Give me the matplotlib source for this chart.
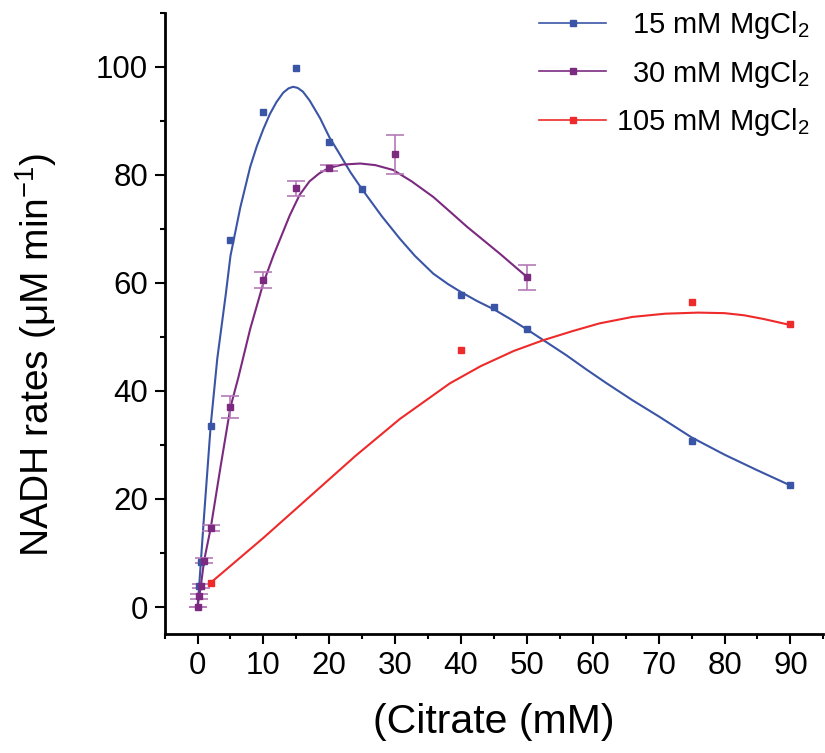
import numpy as np
import matplotlib
matplotlib.use("Agg")
from matplotlib import pyplot as plt
from matplotlib.ticker import MultipleLocator

plt.rcParams['font.family'] = ['Liberation Sans', 'DejaVu Sans']
plt.rcParams['mathtext.fontset'] = 'custom'
plt.rcParams['mathtext.rm'] = 'Liberation Sans'
plt.rcParams['mathtext.it'] = 'Liberation Sans'
plt.rcParams['mathtext.default'] = 'regular'

# measured rates, 15 mM MgCl2
x15 = [0.25, 0.5, 2, 5, 10, 15, 20, 25, 40, 45, 50, 75, 90]
y15 = [3.9, 8.4, 33.6, 67.9, 91.7, 99.8, 86.1, 77.4, 57.7, 55.6, 51.5, 30.7, 22.6]

# measured rates, 30 mM MgCl2 (with error)
x30 = [0, 0.25, 0.5, 1, 2, 5, 10, 15, 20, 30, 50]
y30 = [0.0, 2.0, 3.9, 8.6, 14.6, 37.0, 60.6, 77.5, 81.3, 83.8, 61.0]
e30 = [0.0, 0.5, 0.4, 0.5, 0.5, 2.0, 1.5, 1.4, 0.6, 3.6, 2.4]

# measured rates, 105 mM MgCl2
x105 = [2, 40, 75, 90]
y105 = [4.5, 47.5, 56.5, 52.3]

# fitted curves
fx15 = [0, 0.25, 0.5, 1, 2, 3, 4.3, 5, 6.5, 8, 9, 10, 11, 12, 13, 13.8, 14.5,
        15.2, 16, 17, 18.6, 20, 21.5, 23.2, 25, 28, 30.7, 33, 35.8, 38, 40,
        42.5, 45, 47.5, 50, 52.5, 56, 59, 62, 66, 70, 75, 80, 85, 90]
fy15 = [0, 3.9, 8.3, 17, 33.6, 46, 58, 65, 74, 81.5, 85.3, 88.5, 91.3, 93.5,
        95.2, 96.0, 96.3, 96.1, 95.4, 93.8, 90.5, 87, 84, 80.5, 77.3, 72.3,
        68.2, 65, 61.7, 59.8, 58.3, 56.6, 55.1, 53.3, 51.4, 49.4, 46.6, 44,
        41.5, 38.3, 35.3, 31.4, 28.2, 25.3, 22.5]

fx30 = [0, 0.25, 0.5, 1, 2, 3.5, 5, 6.2, 8, 10, 11.5, 13, 14, 15.5, 17, 18.5,
        20, 22, 24.7, 27, 29.7, 32.5, 35.8, 38.5, 40.9, 43.5, 45.9, 48, 50]
fy30 = [0, 2, 3.9, 8.6, 14.6, 26, 37, 42.5, 51.5, 60, 65, 69.5, 72.5, 76.3,
        78.8, 80.3, 81.3, 81.9, 82.1, 81.8, 80.9, 78.8, 75.9, 73, 70.4, 67.8,
        65.4, 63.2, 61.1]

fx105 = [2, 10, 17, 24, 30.7, 38.3, 43, 48, 52.5, 57, 61, 66, 71, 76, 80, 83, 86, 90]
fy105 = [4.5, 12.8, 20.4, 28, 34.8, 41.4, 44.6, 47.4, 49.4, 51.1, 52.5, 53.7,
         54.3, 54.5, 54.4, 54, 53.3, 52.2]

blue = '#3a55a6'
purple = '#7b2a80'
purple_err = '#b57ab8'
red = '#ee2a2a'

fig = plt.figure(figsize=(8.25, 7.53), dpi=100)
ax = fig.add_axes([0.1995, 0.158, 0.7985, 0.825])

ax.plot(fx15, fy15, color=blue, lw=1.5)
ax.plot(fx30, fy30, color=purple, lw=1.5)
ax.plot(fx105, fy105, color=red, lw=1.5)

ax.errorbar(x30, y30, yerr=e30, fmt='none', ecolor=purple_err, elinewidth=1.2,
            capsize=6.5, capthick=1.2)
ax.plot(x15, y15, 's', color=blue, ms=5, mec=blue)
ax.plot(x30, y30, 's', color=purple, ms=5, mec=purple)
ax.plot(x105, y105, 's', color=red, ms=5, mec=red)

# legend handles: line with marker in the middle
h1, = ax.plot([], [], '-s', color=blue, lw=1.2, ms=4.5)
h2, = ax.plot([], [], '-s', color=purple, lw=1.2, ms=4.5)
h3, = ax.plot([], [], '-s', color=red, lw=1.2, ms=4.5)
leg = ax.legend([h1, h2, h3],
                ['  15 mM MgCl$_2$', '  30 mM MgCl$_2$', '105 mM MgCl$_2$'],
                loc='upper right', bbox_to_anchor=(0.982, 0.988),
                bbox_transform=fig.transFigure, frameon=False, fontsize=21,
                borderpad=0, borderaxespad=0,
                handlelength=2.3, handletextpad=0.34, labelspacing=0.57)

ax.set_xlim(-5, 95)
ax.set_ylim(-5, 110)
ax.xaxis.set_minor_locator(MultipleLocator(5))
ax.yaxis.set_minor_locator(MultipleLocator(10))
ax.set_yticks(np.arange(0, 101, 20))
ax.set_xticks(np.arange(0, 91, 10))

for s in ['top', 'right']:
    ax.spines[s].set_visible(False)
for s in ['left', 'bottom']:
    ax.spines[s].set_linewidth(2)

ax.tick_params(which='major', direction='out', length=7, width=1.5,
               labelsize=22.5, pad=5)
ax.tick_params(which='minor', direction='out', length=3.5, width=1.5)

ax.set_xlabel('(Citrate (mM)', fontsize=29.5, labelpad=16)
ax.set_ylabel('NADH rates (\u03bcM min$^{-1}$)', fontsize=28)
ax.yaxis.set_label_coords(-0.161, 0.45)

plt.savefig('out.png', dpi=100)
